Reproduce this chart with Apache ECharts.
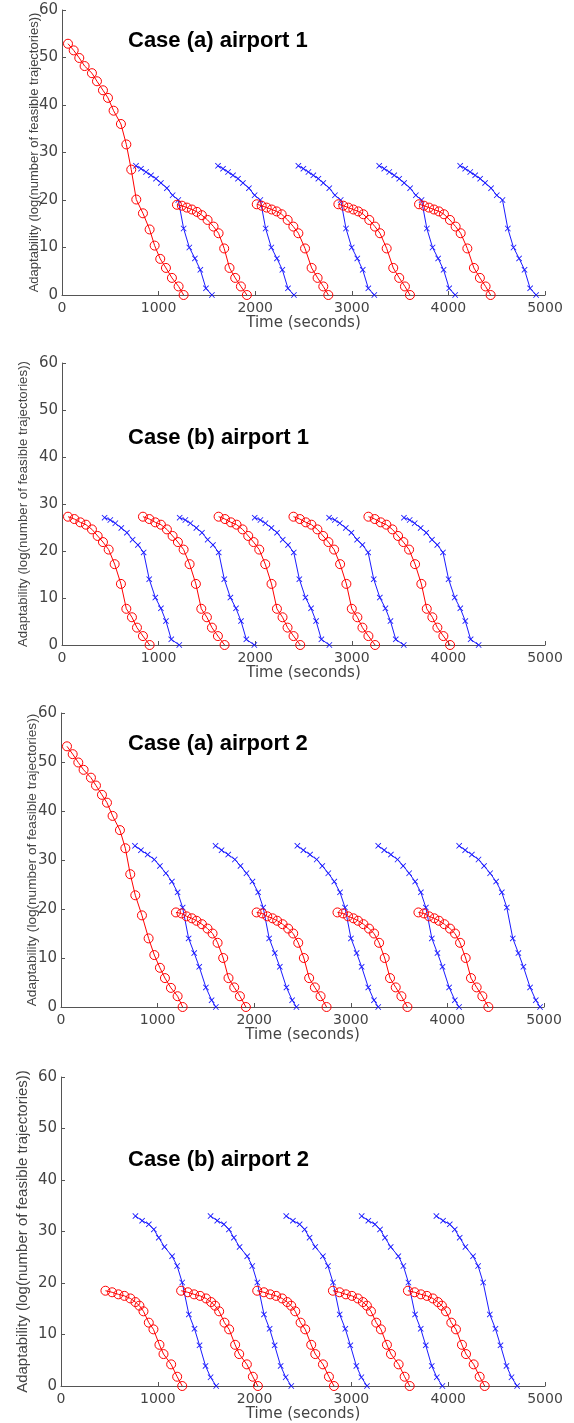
<!DOCTYPE html>
<html>
<head>
<meta charset="utf-8">
<script src="https://cdn.jsdelivr.net/npm/echarts@6/dist/echarts.min.js"></script>
<style>
html,body{margin:0;padding:0;background:#fff;}
#chart{width:574px;height:1423px;}
</style>
</head>
<body>
<div id="chart"></div>
<script>
// ---------- DATA ----------
const panelTitles = ["Case (a) airport 1", "Case (b) airport 1", "Case (a) airport 2", "Case (b) airport 2"];
const xName = "Time (seconds)";
const yName = "Adaptability (log(number of feasible trajectories))";

// Panel 1: Case (a) airport 1
const p1RedTimes = [
  [62,121,179,234,310,362,424,476,534,610,666,717,769,838,907,959,1017,1076,1138,1207,1259],
  [1190,1241,1293,1345,1397,1448,1507,1569,1621,1679,1734,1793,1852,1914],
  [2016,2067,2119,2171,2222,2274,2336,2395,2447,2516,2584,2646,2705,2757],
  [2861,2912,2964,3016,3067,3119,3181,3240,3292,3361,3429,3491,3550,3602],
  [3696,3747,3799,3851,3902,3954,4016,4075,4127,4196,4264,4326,4385,4437]
];
const p1RedValues = [
  [52.9,51.5,49.9,48.2,46.7,45.0,43.1,41.5,38.8,36.0,31.7,26.4,20.1,17.2,13.8,10.4,7.6,5.7,3.6,1.8,0],
  [19.0,18.8,18.4,18.0,17.5,16.8,15.8,14.4,13.0,9.8,5.7,3.6,1.8,0],
  [19.1,18.8,18.4,18.0,17.6,17.0,15.8,14.4,13.0,9.8,5.7,3.6,1.8,0],
  [19.1,18.8,18.4,18.0,17.6,17.0,15.8,14.4,13.0,9.8,5.7,3.6,1.8,0],
  [19.1,18.8,18.4,18.0,17.6,17.0,15.8,14.4,13.0,9.8,5.7,3.6,1.8,0]
];
const p1BlueTimes = [
  [766,818,870,921,973,1024,1086,1145,1204,1259,1318,1376,1432,1490,1552],
  [1615,1667,1719,1770,1822,1873,1935,1994,2053,2108,2167,2225,2281,2339,2401],
  [2447,2499,2551,2602,2654,2705,2767,2826,2885,2940,2999,3057,3113,3171,3233],
  [3284,3336,3388,3439,3491,3542,3604,3663,3722,3777,3836,3894,3950,4008,4070],
  [4122,4174,4226,4277,4329,4380,4442,4501,4560,4615,4674,4732,4788,4846,4908]
];
const p1BlueValues = [
  [27.2,26.6,25.9,25.2,24.5,23.6,22.5,21.0,20.0,14.0,10.0,7.7,5.3,1.4,0],
  [27.2,26.6,25.9,25.2,24.5,23.6,22.5,21.0,20.0,14.0,10.0,7.7,5.3,1.4,0],
  [27.2,26.6,25.9,25.2,24.5,23.6,22.5,21.0,20.0,14.0,10.0,7.7,5.3,1.4,0],
  [27.2,26.6,25.9,25.2,24.5,23.6,22.5,21.0,20.0,14.0,10.0,7.7,5.3,1.4,0],
  [27.2,26.6,25.9,25.2,24.5,23.6,22.5,21.0,20.0,14.0,10.0,7.7,5.3,1.4,0]
];

// Panel 2: Case (b) airport 1
const p2RedTimes = [
  [62,128,190,248,310,369,424,483,545,610,666,724,776,838,907],
  [838,904,966,1024,1086,1145,1200,1259,1321,1386,1442,1500,1552,1614,1683],
  [1621,1687,1749,1807,1869,1928,1983,2042,2104,2169,2225,2283,2335,2397,2466],
  [2396,2462,2524,2582,2644,2703,2758,2817,2879,2944,3000,3058,3110,3172,3241],
  [3172,3238,3300,3358,3420,3479,3534,3593,3655,3720,3776,3834,3886,3948,4017]
];
const p2RedValues = [
  [27.3,26.8,26.1,25.6,24.6,23.2,21.9,20.3,17.2,13.0,7.7,5.9,3.7,1.9,0],
  [27.3,26.8,26.1,25.6,24.6,23.2,21.9,20.3,17.2,13.0,7.7,5.9,3.7,1.9,0],
  [27.3,26.8,26.1,25.6,24.6,23.2,21.9,20.3,17.2,13.0,7.7,5.9,3.7,1.9,0],
  [27.3,26.8,26.1,25.6,24.6,23.2,21.9,20.3,17.2,13.0,7.7,5.9,3.7,1.9,0],
  [27.3,26.8,26.1,25.6,24.6,23.2,21.9,20.3,17.2,13.0,7.7,5.9,3.7,1.9,0]
];
const p2BlueTimes = [
  [441,500,552,614,672,731,786,845,903,966,1024,1076,1131,1214],
  [1218,1277,1329,1391,1449,1508,1563,1622,1680,1743,1801,1853,1908,1991],
  [1995,2054,2106,2168,2226,2285,2340,2399,2457,2520,2578,2630,2685,2768],
  [2765,2824,2876,2938,2996,3055,3110,3169,3227,3290,3348,3400,3455,3538],
  [3540,3599,3651,3713,3771,3830,3885,3944,4002,4065,4123,4175,4230,4313]
];
const p2BlueValues = [
  [27.1,26.6,25.9,24.9,23.9,22.4,21.3,19.7,14.0,10.1,7.8,5.1,1.2,0],
  [27.1,26.6,25.9,24.9,23.9,22.4,21.3,19.7,14.0,10.1,7.8,5.1,1.2,0],
  [27.1,26.6,25.9,24.9,23.9,22.4,21.3,19.7,14.0,10.1,7.8,5.1,1.2,0],
  [27.1,26.6,25.9,24.9,23.9,22.4,21.3,19.7,14.0,10.1,7.8,5.1,1.2,0],
  [27.1,26.6,25.9,24.9,23.9,22.4,21.3,19.7,14.0,10.1,7.8,5.1,1.2,0]
];

// Panel 3: Case (a) airport 2
const p3RedTimes = [
  [62,121,179,234,310,362,424,476,534,610,666,717,769,838,907,966,1024,1076,1138,1207,1259],
  [1190,1248,1300,1355,1403,1459,1517,1569,1621,1679,1734,1793,1852,1914],
  [2025,2083,2135,2190,2238,2294,2352,2404,2456,2514,2569,2628,2687,2749],
  [2862,2920,2972,3027,3075,3131,3189,3241,3293,3351,3406,3465,3524,3586],
  [3700,3758,3810,3865,3913,3969,4027,4079,4131,4189,4244,4303,4362,4424]
];
const p3RedValues = [
  [53.2,51.6,49.9,48.4,46.8,45.2,43.3,41.7,39.0,36.1,32.4,27.1,22.8,18.7,14.0,10.6,8.0,5.9,3.9,2.2,0],
  [19.3,19.1,18.5,18.1,17.6,16.9,16.0,15.0,13.1,10.0,5.9,4.0,2.2,0],
  [19.3,19.1,18.5,18.1,17.6,16.9,16.0,15.0,13.1,10.0,5.9,4.0,2.2,0],
  [19.3,19.1,18.5,18.1,17.6,16.9,16.0,15.0,13.1,10.0,5.9,4.0,2.2,0],
  [19.3,19.1,18.5,18.1,17.6,16.9,16.0,15.0,13.1,10.0,5.9,4.0,2.2,0]
];
const p3BlueTimes = [
  [766,828,897,966,1024,1086,1148,1207,1259,1321,1379,1431,1500,1559,1603],
  [1600,1662,1731,1800,1858,1920,1982,2041,2093,2155,2213,2265,2334,2393,2437],
  [2447,2509,2578,2647,2705,2767,2829,2888,2940,3002,3060,3112,3181,3240,3284],
  [3284,3346,3415,3484,3542,3604,3666,3725,3777,3839,3897,3949,4018,4077,4121],
  [4122,4184,4253,4322,4380,4442,4504,4563,4615,4677,4735,4787,4856,4915,4959]
];
const p3BlueValues = [
  [32.9,32.0,31.1,30.1,28.8,27.3,25.6,23.4,20.3,14.0,11.0,8.2,4.0,1.4,0],
  [32.9,32.0,31.1,30.1,28.8,27.3,25.6,23.4,20.3,14.0,11.0,8.2,4.0,1.4,0],
  [32.9,32.0,31.1,30.1,28.8,27.3,25.6,23.4,20.3,14.0,11.0,8.2,4.0,1.4,0],
  [32.9,32.0,31.1,30.1,28.8,27.3,25.6,23.4,20.3,14.0,11.0,8.2,4.0,1.4,0],
  [32.9,32.0,31.1,30.1,28.8,27.3,25.6,23.4,20.3,14.0,11.0,8.2,4.0,1.4,0]
];

// Panel 4: Case (b) airport 2
const p4RedTimes = [
  [459,528,593,655,717,769,810,852,907,955,1017,1059,1138,1200,1252],
  [1241,1310,1375,1437,1499,1551,1592,1634,1689,1737,1799,1841,1920,1982,2034],
  [2027,2096,2161,2223,2285,2337,2378,2420,2475,2523,2585,2627,2706,2768,2820],
  [2809,2878,2943,3005,3067,3119,3160,3202,3257,3305,3367,3409,3488,3550,3602],
  [3584,3653,3718,3780,3842,3894,3935,3977,4032,4080,4142,4184,4263,4325,4377]
];
const p4RedValues = [
  [18.5,18.2,17.8,17.5,17.0,16.3,15.6,14.5,12.3,11.0,8.0,6.2,4.2,1.8,0],
  [18.5,18.2,17.8,17.5,17.0,16.3,15.6,14.5,12.3,11.0,8.0,6.2,4.2,1.8,0],
  [18.5,18.2,17.8,17.5,17.0,16.3,15.6,14.5,12.3,11.0,8.0,6.2,4.2,1.8,0],
  [18.5,18.2,17.8,17.5,17.0,16.3,15.6,14.5,12.3,11.0,8.0,6.2,4.2,1.8,0],
  [18.5,18.2,17.8,17.5,17.0,16.3,15.6,14.5,12.3,11.0,8.0,6.2,4.2,1.8,0]
];
const p4BlueTimes = [
  [769,838,907,959,1010,1069,1148,1200,1252,1321,1379,1431,1493,1545,1603],
  [1545,1614,1683,1735,1786,1845,1924,1976,2028,2097,2155,2207,2269,2321,2379],
  [2327,2396,2465,2517,2568,2627,2706,2758,2810,2879,2937,2989,3051,3103,3161],
  [3106,3175,3244,3296,3347,3406,3485,3537,3589,3658,3716,3768,3830,3882,3940],
  [3878,3947,4016,4068,4119,4178,4257,4309,4361,4430,4488,4540,4602,4654,4712]
];
const p4BlueValues = [
  [33.0,32.1,31.4,30.4,28.8,27.0,25.2,23.3,20.1,13.9,11.1,7.9,3.9,1.7,0],
  [33.0,32.1,31.4,30.4,28.8,27.0,25.2,23.3,20.1,13.9,11.1,7.9,3.9,1.7,0],
  [33.0,32.1,31.4,30.4,28.8,27.0,25.2,23.3,20.1,13.9,11.1,7.9,3.9,1.7,0],
  [33.0,32.1,31.4,30.4,28.8,27.0,25.2,23.3,20.1,13.9,11.1,7.9,3.9,1.7,0],
  [33.0,32.1,31.4,30.4,28.8,27.0,25.2,23.3,20.1,13.9,11.1,7.9,3.9,1.7,0]
];

// ---------- LAYOUT / STYLE ----------
const panels = [
  {red:[p1RedTimes,p1RedValues], blue:[p1BlueTimes,p1BlueValues], grid:{left:62,top:10,width:483,height:285}, title:{left:128,top:30}, yNameSize:13, yNameGap:21},
  {red:[p2RedTimes,p2RedValues], blue:[p2BlueTimes,p2BlueValues], grid:{left:62,top:363,width:483,height:282}, title:{left:128,top:427}, yNameSize:13.3, yNameGap:32},
  {red:[p3RedTimes,p3RedValues], blue:[p3BlueTimes,p3BlueValues], grid:{left:61,top:713,width:483,height:294}, title:{left:128,top:733}, yNameSize:13.6, yNameGap:22},
  {red:[p4RedTimes,p4RedValues], blue:[p4BlueTimes,p4BlueValues], grid:{left:61,top:1077,width:484,height:309}, title:{left:128,top:1149}, yNameSize:15, yNameGap:31}
];

const RED = '#ff0000';
const BLUE = '#1a1aff';
const XSYM = 'path://M0,1L1,0L5,4L9,0L10,1L6,5L10,9L9,10L5,6L1,10L0,9L4,5Z';

function zip(ts, vs) { return ts.map((t, i) => [t, vs[i]]); }

const grids = [], xAxes = [], yAxes = [], titles = [], series = [];
panels.forEach((p, k) => {
  grids.push(Object.assign({containLabel:false}, p.grid));
  titles.push({
    text: panelTitles[k], left: p.title.left, top: p.title.top, padding: 0,
    textStyle: {fontFamily:'Liberation Sans, Arial, sans-serif', fontWeight:'bold', fontSize:22, color:'#000'}
  });
  xAxes.push({
    gridIndex:k, type:'value', min:0, max:5000, interval:1000,
    name:xName, nameLocation:'middle', nameGap:21, nameMoveOverlap:false,
    nameTextStyle:{fontFamily:'DejaVu Sans', fontSize:15, color:'#444'},
    axisLine:{show:true, onZero:false, lineStyle:{color:'#555', width:1}},
    axisTick:{show:true, inside:true, length:4, lineStyle:{color:'#555'}},
    axisLabel:{fontFamily:'DejaVu Sans', fontSize:14, color:'#444', margin:6, formatter: v => String(v)},
    splitLine:{show:false}
  });
  yAxes.push({
    gridIndex:k, type:'value', min:0, max:60, interval:10,
    name:yName, nameLocation:'middle', nameRotate:90, nameGap:p.yNameGap, nameMoveOverlap:false,
    nameTextStyle:{fontFamily:'Liberation Sans, Arial, sans-serif', fontSize:p.yNameSize, color:'#444'},
    axisLine:{show:true, onZero:false, lineStyle:{color:'#555', width:1}},
    axisTick:{show:true, inside:true, length:4, lineStyle:{color:'#555'}},
    axisLabel:{fontFamily:'DejaVu Sans', fontSize:15, color:'#444', margin:4, formatter: v => String(v)},
    splitLine:{show:false}
  });
  p.red[0].forEach((ts, i) => {
    series.push({
      type:'line', xAxisIndex:k, yAxisIndex:k, data:zip(ts, p.red[1][i]),
      symbol:'circle', symbolSize:9,
      itemStyle:{color:'rgba(255,255,255,0)', borderColor:RED, borderWidth:1},
      lineStyle:{color:RED, width:1}, silent:true, z:3
    });
  });
  p.blue[0].forEach((ts, i) => {
    series.push({
      type:'line', xAxisIndex:k, yAxisIndex:k, data:zip(ts, p.blue[1][i]),
      symbol:XSYM, symbolSize:6,
      itemStyle:{color:BLUE, borderWidth:0},
      lineStyle:{color:BLUE, width:1}, silent:true, z:2
    });
  });
});

const chart = echarts.init(document.getElementById('chart'), null, {renderer:'canvas'});
chart.setOption({
  animation:false,
  backgroundColor:'#fff',
  title:titles,
  grid:grids,
  xAxis:xAxes,
  yAxis:yAxes,
  series:series
});
</script>
</body>
</html>
